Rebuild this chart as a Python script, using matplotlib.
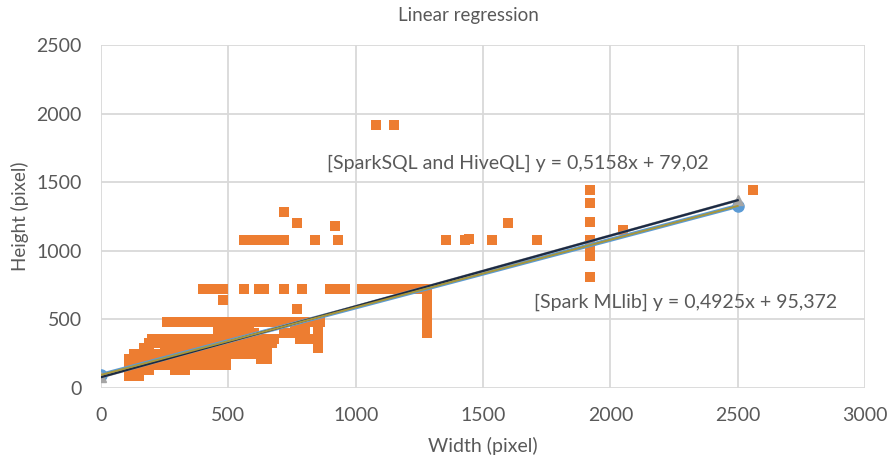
import matplotlib
matplotlib.use("Agg")
import matplotlib.pyplot as plt

plt.rcParams['font.family'] = ['Lato', 'DejaVu Sans']

# ---- data: observed image sizes (width -> list of heights grouped by row) ----
rows = {
    90:  [110, 130, 150],
    130: [110, 130, 150, 170, 190, 290, 310, 330],
    170: [110, 130, 150, 170, 190, 210, 230, 250, 270, 290, 310, 330, 350, 370, 390, 410, 430, 450, 470, 490],
    210: [110, 130, 150, 170, 190, 210, 230, 250, 270, 290, 310, 330, 350, 370, 390, 410, 430, 450, 470, 490, 630, 650],
    250: [130, 150, 170, 190, 210, 230, 250, 270, 290, 310, 330, 350, 370, 390, 410, 430, 450, 470, 490, 510, 530,
          550, 570, 590, 610, 630, 650],
    290: [170, 190, 250, 270, 290, 310, 330, 350, 370, 390, 410, 430, 450, 470, 490, 510, 530, 550, 570, 590, 610,
          630, 650, 854],
    330: [190, 210, 230, 250, 270, 290, 310, 330, 350, 370, 390, 410, 430, 450, 470, 490, 510, 530, 550, 570, 590,
          610, 630, 650, 670, 854],
    360: [200, 220, 240, 260, 280, 300, 320, 340, 360, 380, 400, 420, 440, 460, 480, 500, 520, 540, 560, 580, 600,
          620, 640, 660, 680, 780, 800, 820, 854],
    400: [460, 480, 500, 520, 560, 580, 600, 720, 740, 760, 780, 800, 854, 1280],
    430: [460, 480, 500, 520, 540, 560, 580, 760, 780, 800, 854],
    450: [1280],
    480: [260, 280, 300, 320, 340, 360, 380, 400, 420, 440, 460, 480, 500, 520, 540, 560, 580, 600, 620, 640, 660,
          680, 700, 720, 740, 760, 780, 800, 820, 840, 854, 860],
    500: [1280],
    550: [1280],
    576: [768],
    600: [1280],
    640: [480],
    650: [1280],
    720: [400, 420, 440, 460, 480, 560, 620, 640, 720, 790, 900, 930, 960, 1024, 1056, 1088, 1120, 1152, 1184,
          1216, 1248, 1280],
    810: [1920],
    960: [1920],
    1000: [1920],
    1024: [1920],
    1050: [1920],
    1080: [560, 600, 620, 640, 660, 680, 700, 720, 840, 930, 1355, 1430, 1536, 1712, 1920],
    1085: [1445],
    1152: [2048],
    1180: [920],
    1200: [768, 1600],
    1210: [1920],
    1280: [720],
    1350: [1920],
    1440: [1920, 2560],
    1920: [1080, 1152],
}
widths = [w for h, ws in rows.items() for w in ws]
heights = [h for h, ws in rows.items() for w in ws]

# model predictions at the two ends
pred_x = [0, 2500]
mllib_y = [95.372, 1326.622]
sql_y = [79.02, 1368.52]

# trendline coefficients
sql_slope, sql_icpt = 0.5158, 79.02
ml_slope, ml_icpt = 0.4925, 95.372

label_sql = "[SparkSQL and HiveQL] y = 0,5158x + 79,02"
label_ml = "[Spark MLlib] y = 0,4925x + 95,372"

xticks = [0, 500, 1000, 1500, 2000, 2500, 3000]
yticks = [0, 500, 1000, 1500, 2000, 2500]

txt = '#595959'

fig = plt.figure(figsize=(8.88, 4.63), dpi=100)
ax = fig.add_axes([101/888, 1-388/463, (865-101)/888, (388-45)/463])

ax.scatter(widths, heights, marker='s', s=44, color='#ed7d31', linewidths=0, zorder=3)

ax.plot(pred_x, mllib_y, color='#5b9bd5', lw=3.0, marker='o', ms=8, zorder=4)
ax.plot(pred_x, sql_y, color='#a5a5a5', lw=2.0, marker='^', ms=7, zorder=4)
ax.plot(pred_x, [sql_icpt + sql_slope * x for x in pred_x], color='#1b2a44', lw=1.6, zorder=5)
ax.plot(pred_x, [ml_icpt + ml_slope * x for x in pred_x], color='#a8963a', lw=1.4, zorder=5)

ax.set_xlim(0, 3000)
ax.set_ylim(0, 2500)
ax.set_xticks(xticks)
ax.set_yticks(yticks)
ax.grid(True, color='#d9d9d9', lw=1.3, zorder=0)
ax.set_axisbelow(True)
for s in ax.spines.values():
    s.set_visible(False)
ax.tick_params(length=0, labelsize=14, labelcolor=txt, pad=14)

fig.text(468/888, 1-16/463, "Linear regression", fontsize=13.5, color=txt, ha='center', va='center')
ax.set_xlabel("Width (pixel)", fontsize=14, color=txt, labelpad=9)
fig.text(20/888, 1-216/463, "Height (pixel)", fontsize=13.5, color=txt, rotation=90,
         ha='center', va='center')

ax.text(887, 1640, label_sql, fontsize=14, color=txt, va='center', ha='left')
ax.text(1700, 627, label_ml, fontsize=14, color=txt, va='center', ha='left')

fig.savefig("out.png", dpi=100)
